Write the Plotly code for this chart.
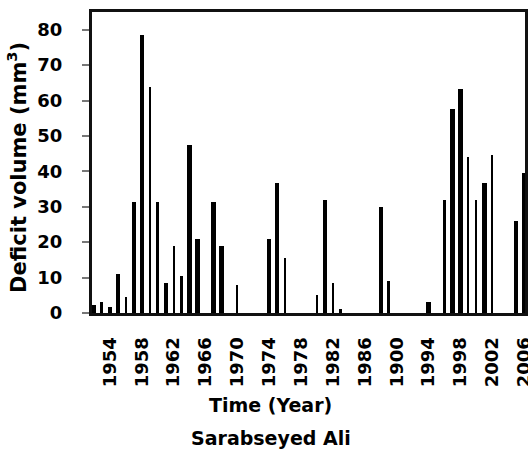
import plotly.graph_objects as go

# Deficit volume per drought year, Sarabseyed Ali station
years = [1952, 1953, 1954, 1955, 1956, 1957, 1958, 1959, 1960, 1961, 1962, 1963,
         1964, 1965, 1967, 1968, 1970, 1974, 1975, 1976, 1980, 1981, 1982, 1983,
         1988, 1989, 1994, 1996, 1997, 1998, 1999, 2000, 2001, 2002, 2005, 2006]
deficit_volume = [2.3, 3.2, 1.7, 11.0, 4.5, 31.4, 78.5, 63.7, 31.4, 8.6, 19.0, 10.5,
                  47.5, 20.8, 31.4, 19.0, 7.9, 20.8, 36.6, 15.6, 5.1, 31.9, 8.6, 1.0,
                  30.0, 9.1, 3.2, 31.9, 57.5, 63.2, 44.0, 31.9, 36.6, 44.6, 26.0, 39.5]

tick_years = [1954, 1958, 1962, 1966, 1970, 1974, 1978, 1982, 1986, 1990, 1994, 1998, 2002, 2006]
tick_labels = ["1954", "1958", "1962", "1966", "1970", "1974", "1978", "1982", "1986",
               "1900", "1994", "1998", "2002", "2006"]
y_ticks = [0, 10, 20, 30, 40, 50, 60, 70, 80]

# bars drawn narrow for these years
narrow_years = {1953, 1956, 1959, 1960, 1962, 1963, 1970, 1976, 1980, 1982, 1983,
                1989, 1996, 1999, 2000, 2002}
bar_widths = [0.25 if y in narrow_years else 0.54 for y in years]

FONT = "DejaVu Sans"

fig = go.Figure()
fig.add_trace(go.Bar(
    x=years,
    y=deficit_volume,
    width=bar_widths,
    marker=dict(color="#000000", line=dict(width=0)),
    showlegend=False,
))

fig.update_layout(
    width=528,
    height=450,
    margin=dict(l=92, r=3, t=12, b=137, autoexpand=False),
    paper_bgcolor="white",
    plot_bgcolor="white",
    font=dict(family=FONT, color="black"),
    bargap=0,
    xaxis=dict(
        range=[1951.75, 2006.1],
        tickmode="array",
        tickvals=tick_years,
        ticktext=tick_labels,
        tickangle=-90,
        tickfont=dict(family=FONT, size=18, color="black", weight="bold"),
        ticks="",
        ticklabelstandoff=14,
        ticklabeloverflow="allow",
        automargin=False,
        showgrid=False,
        zeroline=False,
        showline=True,
        linecolor="#111111",
        linewidth=3,
        mirror=True,
    ),
    yaxis=dict(
        range=[0, 85],
        tickmode="array",
        tickvals=y_ticks,
        tickfont=dict(family=FONT, size=18, color="black", weight="bold"),
        ticks="outside",
        ticklen=7,
        tickwidth=2,
        tickcolor="#777777",
        ticklabelstandoff=16,
        automargin=False,
        showgrid=False,
        zeroline=False,
        showline=True,
        linecolor="#111111",
        linewidth=3,
        mirror=True,
    ),
    annotations=[
        dict(text="<b>Deficit volume (mm<sup>3</sup>)</b>", xref="paper", yref="paper",
             x=-0.173, y=0.482, xanchor="center", yanchor="middle", textangle=-90,
             showarrow=False, font=dict(family=FONT, size=21, color="black")),
        dict(text="<b>Time (Year)</b>", xref="paper", yref="paper",
             x=0.413, y=-0.3056, xanchor="center", yanchor="middle",
             showarrow=False, font=dict(family=FONT, size=19, color="black")),
        dict(text="<b>Sarabseyed Ali</b>", xref="paper", yref="paper",
             x=0.413, y=-0.415, xanchor="center", yanchor="middle",
             showarrow=False, font=dict(family=FONT, size=19, color="black")),
    ],
)

fig.write_html("out.html")
